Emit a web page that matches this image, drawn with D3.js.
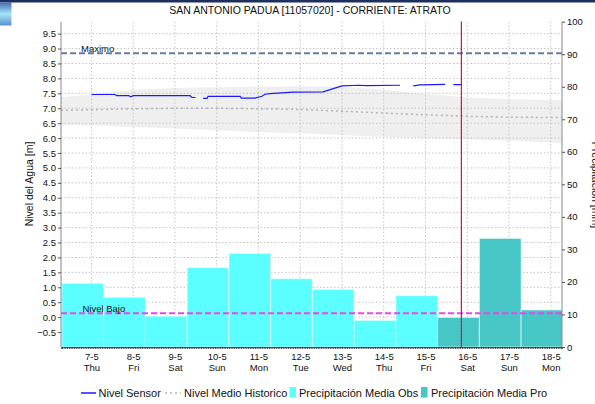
<!DOCTYPE html>
<html>
<head>
<meta charset="utf-8">
<script src="https://cdn.jsdelivr.net/npm/d3@7"></script>
<style>
  body { margin: 0; background: #fff; }
  svg { display: block; font-family: "Liberation Sans", Arial, sans-serif; }
</style>
</head>
<body>
<div id="chart"></div>
<script>
// Datos
const diasTicks = ["2020-05-07","2020-05-08","2020-05-09","2020-05-10","2020-05-11","2020-05-12",
                   "2020-05-13","2020-05-14","2020-05-15","2020-05-16","2020-05-17","2020-05-18"];
const diasSemana = ["Thu","Fri","Sat","Sun","Mon","Tue","Wed","Thu","Fri","Sat","Sun","Mon"];

// Precipitacion diaria (dia que termina a las 07:00 de la fecha)
const precipObsFechas = ["2020-05-06","2020-05-07","2020-05-08","2020-05-09","2020-05-10",
                         "2020-05-11","2020-05-12","2020-05-13","2020-05-14","2020-05-15"];
const precipObs = [21.4, 19.6, 15.3, 9.5, 24.4, 28.8, 21.0, 17.7, 8.2, 15.8];
const precipProFechas = ["2020-05-16","2020-05-17","2020-05-18"];
const precipPro = [9.1, 33.4, 11.4];

// Nivel sensor (null = sin dato)
const sensorFechas = ["2020-05-07 00:00","2020-05-07 13:30","2020-05-07 14:30","2020-05-07 21:30",
  "2020-05-07 22:40","2020-05-08 00:00","2020-05-09 08:40","2020-05-09 09:50","2020-05-09 11:50",
  "2020-05-09 14:00","2020-05-09 16:10","2020-05-09 18:30","2020-05-09 19:00","2020-05-10 13:30",
  "2020-05-10 14:10","2020-05-10 22:00","2020-05-11 02:00","2020-05-11 03:50","2020-05-11 06:40",
  "2020-05-11 20:00","2020-05-12 13:10","2020-05-13 00:00","2020-05-13 10:00","2020-05-13 14:00",
  "2020-05-14 09:20","2020-05-14 13:00","2020-05-14 17:00","2020-05-14 21:00","2020-05-15 11:20",
  "2020-05-15 13:40","2020-05-15 16:00","2020-05-15 20:40"];
const sensorNivel = [7.46, 7.46, 7.42, 7.42,
  7.38, 7.42, 7.42, 7.36, 7.36,
  null, 7.33, 7.33, 7.40, 7.40,
  7.34, 7.34, 7.40, 7.47, 7.49,
  7.54, 7.55, 7.75, 7.77, 7.76,
  7.77, null, 7.75, 7.78, 7.80,
  null, 7.79, 7.79];

// Nivel historico: banda min-max y media
const histFechas = ["2020-05-06 06:30","2020-05-07 00:00","2020-05-08 00:00","2020-05-09 00:00",
  "2020-05-10 00:00","2020-05-11 00:00","2020-05-12 00:00","2020-05-13 00:00","2020-05-14 00:00",
  "2020-05-15 00:00","2020-05-16 00:00","2020-05-17 00:00","2020-05-18 00:00","2020-05-18 06:30"];
const histSup = [7.38, 7.45, 7.62, 7.68, 7.70, 7.72, 7.74, 7.72, 7.62, 7.48, 7.36, 7.30, 7.28, 7.28];
const histInf = [6.43, 6.42, 6.37, 6.32, 6.26, 6.20, 6.16, 6.10, 6.04, 6.00, 5.96, 5.91, 5.85, 5.84];
const histMedio = [6.93, 6.95, 6.98, 7.00, 7.00, 6.98, 6.96, 6.90, 6.84, 6.78, 6.73, 6.70, 6.69, 6.69];

const nivelMaximo = 8.84;
const nivelBajo = 0.13;
const fechaActual = "2020-05-15 20:40";

const titulo = "SAN ANTONIO PADUA [11057020] - CORRIENTE: ATRATO";
const leyenda = ["Nivel Sensor", "Nivel Medio Historico", "Precipitación Media Obs", "Precipitación Media Pro"];

// Parsers
const pDia = d3.timeParse("%Y-%m-%d");
const pHora = d3.timeParse("%Y-%m-%d %H:%M");

// Dimensiones
const W = 595, H = 404;
const plot = { left: 61, right: 562, top: 21.7, bottom: 347 };

const svg = d3.select("#chart").append("svg")
    .attr("width", W).attr("height", H);

// Cabecera (barra superior y bloque azul)
const grad = svg.append("defs").append("linearGradient")
    .attr("id", "bloque").attr("x1", 0).attr("x2", 0).attr("y1", 0).attr("y2", 1);
grad.append("stop").attr("offset", "0%").attr("stop-color", "#3f6fb6");
grad.append("stop").attr("offset", "50%").attr("stop-color", "#a6e6f6");
grad.append("stop").attr("offset", "100%").attr("stop-color", "#5b8fd2");
svg.append("rect").attr("x", 0).attr("y", 0).attr("width", W).attr("height", 2.5).attr("fill", "#1d2f5f");
svg.append("rect").attr("x", 0).attr("y", 2.5).attr("width", 11.5).attr("height", 23).attr("fill", "url(#bloque)");

svg.select("defs").append("clipPath").attr("id", "clip")
    .append("rect").attr("x", plot.left).attr("y", plot.top)
    .attr("width", plot.right - plot.left).attr("height", plot.bottom - plot.top);

// Escalas
const x = d3.scaleTime()
    .domain([pHora("2020-05-06 06:30"), pHora("2020-05-18 06:30")])
    .range([plot.left, plot.right]);
const yL = d3.scaleLinear().domain([-1, 9.9]).range([plot.bottom, plot.top]);
const yR = d3.scaleLinear().domain([0, 100]).range([plot.bottom, plot.top]);

const g = svg.append("g").attr("clip-path", "url(#clip)");

// Banda historica
const hist = histFechas.map((f, i) => ({ t: pHora(f), sup: histSup[i], inf: histInf[i], med: histMedio[i] }));
g.append("path")
    .datum(hist)
    .attr("d", d3.area().x(d => x(d.t)).y0(d => yL(d.inf)).y1(d => yL(d.sup)))
    .attr("fill", "#efefef");

// Rejilla
const ticksY = yL.ticks(20).filter(v => v > -1);
g.selectAll(".gy").data(ticksY).enter().append("line")
    .attr("x1", plot.left).attr("x2", plot.right)
    .attr("y1", d => yL(d)).attr("y2", d => yL(d))
    .attr("stroke", "#c4c4c4").attr("stroke-width", 1).attr("stroke-dasharray", "1.5,2");
const ticksX = diasTicks.map(pDia);
g.selectAll(".gx").data(ticksX).enter().append("line")
    .attr("x1", d => x(d)).attr("x2", d => x(d))
    .attr("y1", plot.top).attr("y2", plot.bottom)
    .attr("stroke", "#c4c4c4").attr("stroke-width", 1).attr("stroke-dasharray", "1.5,2");

// Nivel medio historico
g.append("path")
    .datum(hist)
    .attr("d", d3.line().x(d => x(d.t)).y(d => yL(d.med)))
    .attr("fill", "none").attr("stroke", "#b4b4b4").attr("stroke-width", 1.5)
    .attr("stroke-dasharray", "2,3");

// Barras de precipitacion
function barras(fechas, valores, color) {
    const datos = fechas.map((f, i) => {
        const fin = d3.timeHour.offset(pDia(f), 7);
        return { ini: d3.timeDay.offset(fin, -1), fin: fin, v: valores[i] };
    });
    g.selectAll(null).data(datos).enter().append("rect")
        .attr("x", d => x(d.ini))
        .attr("width", d => x(d.fin) - x(d.ini))
        .attr("y", d => yR(d.v))
        .attr("height", d => yR(0) - yR(d.v))
        .attr("fill", color)
        .attr("stroke", "#ffffff").attr("stroke-opacity", 0.6).attr("stroke-width", 1);
}
barras(precipObsFechas, precipObs, "#5cffff");
barras(precipProFechas, precipPro, "#47c6c6");

// Lineas Maximo y Nivel Bajo
g.append("line")
    .attr("x1", plot.left).attr("x2", plot.right)
    .attr("y1", yL(nivelMaximo)).attr("y2", yL(nivelMaximo))
    .attr("stroke", "#6a79a6").attr("stroke-width", 2).attr("stroke-dasharray", "6,3");
g.append("line")
    .attr("x1", plot.left).attr("x2", plot.right)
    .attr("y1", yL(nivelBajo)).attr("y2", yL(nivelBajo))
    .attr("stroke", "#ee44ee").attr("stroke-width", 2).attr("stroke-dasharray", "6,3");
svg.append("text").attr("x", 81).attr("y", yL(nivelMaximo) - 1.8)
    .style("font-size", "9.5px").attr("fill", "#111").text("Maximo");
svg.append("text").attr("x", 82.5).attr("y", yL(nivelBajo) - 0.8)
    .style("font-size", "9.5px").attr("fill", "#111").text("Nivel Bajo");

// Nivel sensor
const sensor = sensorFechas.map((f, i) => ({ t: pHora(f), v: sensorNivel[i] }));
g.append("path")
    .datum(sensor)
    .attr("d", d3.line().defined(d => d.v !== null).x(d => x(d.t)).y(d => yL(d.v)))
    .attr("fill", "none").attr("stroke", "#1a1aff").attr("stroke-width", 1.2);

// Linea de fecha actual
const xa = x(pHora(fechaActual));
svg.append("line").attr("x1", xa).attr("x2", xa).attr("y1", plot.top).attr("y2", plot.bottom)
    .attr("stroke", "#ee2222").attr("stroke-width", 1.2);
svg.append("line").attr("x1", xa).attr("x2", xa).attr("y1", plot.top).attr("y2", plot.bottom)
    .attr("stroke", "#7a1010").attr("stroke-width", 0.7).attr("stroke-dasharray", "1,2");

// Eje izquierdo
const ejeL = svg.append("g").attr("transform", `translate(${plot.left},0)`)
    .call(d3.axisLeft(yL).tickValues(ticksY).tickFormat(d3.format(".1f")).tickSize(3).tickPadding(2));
// Eje derecho
const ejeR = svg.append("g").attr("transform", `translate(${plot.right},0)`)
    .call(d3.axisRight(yR).ticks(10).tickFormat(d3.format("d")).tickSize(3).tickPadding(2));
[ejeL, ejeR].forEach(e => {
    e.select(".domain").attr("stroke", "#8a8a8a").attr("d",
        `M0,${plot.top}V${plot.bottom}`);
    e.selectAll(".tick line").attr("stroke", "#555");
    e.selectAll("text").style("font-size", "9.5px").attr("fill", "#111");
});

// Eje inferior: marcas horarias
const ejeH = svg.append("g").attr("transform", `translate(0,${plot.bottom})`)
    .call(d3.axisBottom(x).ticks(d3.timeHour.every(1)).tickSize(2).tickFormat(""));
ejeH.select(".domain").attr("stroke", "#666");
ejeH.selectAll(".tick line").attr("stroke", "#222").attr("stroke-width", 0.8);

// Etiquetas de dias
const ejeX = svg.append("g").attr("transform", `translate(0,${plot.bottom})`)
    .call(d3.axisBottom(x).tickValues(ticksX).tickSize(0).tickFormat(""));
ejeX.select(".domain").remove();
ejeX.selectAll(".tick").each(function(d, i) {
    const t = d3.select(this).append("text").attr("fill", "#111").attr("text-anchor", "middle")
        .style("font-size", "9.5px");
    t.append("tspan").attr("x", 0).attr("y", 13).text(d3.timeFormat("%-d-%-m")(d));
    t.append("tspan").attr("x", 0).attr("y", 24).text(diasSemana[i]);
});

// Titulo
svg.append("text").attr("x", 310).attr("y", 14).attr("text-anchor", "middle")
    .style("font-size", "10.5px").attr("fill", "#111").text(titulo);

// Titulos de ejes
svg.append("text").attr("transform", "translate(33,184) rotate(-90)").attr("text-anchor", "middle")
    .style("font-size", "10.5px").attr("fill", "#111").text("Nivel del Agua [m]");
svg.append("text").attr("transform", "translate(591.5,185) rotate(90)").attr("text-anchor", "middle")
    .style("font-size", "10.5px").attr("fill", "#111").text("Precipitación [mm]");

// Leyenda
const ly = 393;
const ley = svg.append("g").style("font-size", "11px").attr("fill", "#111");
ley.append("line").attr("x1", 81).attr("x2", 96).attr("y1", ly).attr("y2", ly)
    .attr("stroke", "#1a1aff").attr("stroke-width", 1.5);
ley.append("text").attr("x", 98.5).attr("y", ly + 3.8).text(leyenda[0]);
ley.append("line").attr("x1", 165).attr("x2", 181).attr("y1", ly).attr("y2", ly)
    .attr("stroke", "#b4b4b4").attr("stroke-width", 1.5).attr("stroke-dasharray", "2,3");
ley.append("text").attr("x", 184).attr("y", ly + 3.8).text(leyenda[1]);
ley.append("rect").attr("x", 289.5).attr("y", 387).attr("width", 6.5).attr("height", 10.5).attr("fill", "#5cffff");
ley.append("text").attr("x", 299).attr("y", ly + 3.8).text(leyenda[2]);
ley.append("rect").attr("x", 421).attr("y", 387).attr("width", 6.5).attr("height", 10.5).attr("fill", "#47c6c6");
ley.append("text").attr("x", 431).attr("y", ly + 3.8).text(leyenda[3]);
</script>
</body>
</html>
